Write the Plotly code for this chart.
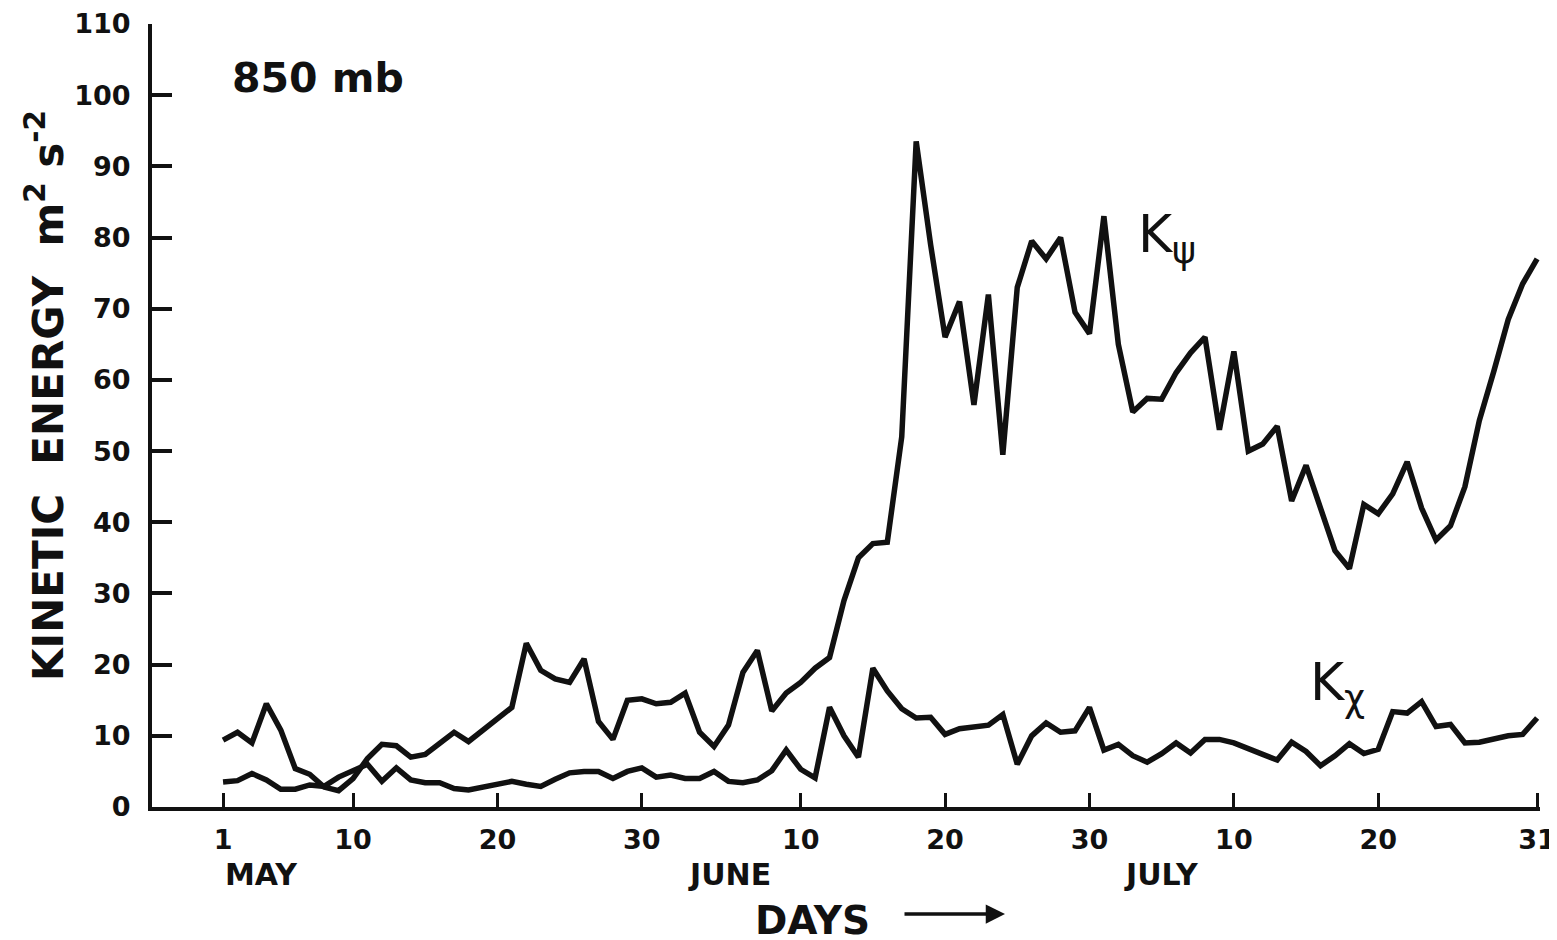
import plotly.graph_objects as go

# ---- data ----
days = list(range(1, 93))  # 1 May .. 31 July

k_psi = [9.4, 10.5, 9.0, 14.5, 10.8, 5.4, 4.6, 2.8, 2.3, 4.0,
         6.8, 8.8, 8.6, 7.0, 7.4, 9.0, 10.5, 9.2, 10.8, 12.5,
         14.0, 23.0, 19.2, 18.0, 17.5, 20.8, 12.0, 9.5, 15.0, 15.2,
         14.5, 14.7, 16.0, 10.5, 8.5, 11.5, 18.9, 22.0, 13.5, 16.0,
         17.5, 19.5, 21.0, 29.0, 35.0, 37.0, 37.2, 52.0, 93.5, 79.0,
         66.0, 71.0, 56.5, 72.0, 49.5, 73.0, 79.5, 77.0, 80.0, 69.5,
         66.5, 83.0, 65.0, 55.5, 57.4, 57.3, 61.0, 63.8, 66.0, 53.0,
         64.0, 50.0, 51.0, 53.5, 43.0, 48.0, 42.0, 36.0, 33.5, 42.5,
         41.2, 44.0, 48.5, 42.0, 37.5, 39.5, 45.0, 54.3, 61.2, 68.5,
         73.5, 77.0]

k_chi = [3.5, 3.7, 4.7, 3.8, 2.5, 2.5, 3.1, 2.9, 4.2, 5.0,
         6.0, 3.6, 5.5, 3.8, 3.4, 3.4, 2.6, 2.4, 2.8, 3.3,
         3.6, 3.2, 2.9, 3.9, 4.8, 5.0, 5.0, 4.0, 5.0, 5.5,
         4.2, 4.5, 4.0, 4.0, 5.0, 3.6, 3.4, 3.8, 5.1, 8.0,
         5.3, 4.1, 14.0, 10.0, 7.0, 19.5, 16.3, 13.8, 12.5, 12.6,
         10.2, 11.0, 11.3, 11.5, 13.0, 6.0, 10.0, 11.8, 10.5, 10.7,
         14.0, 8.0, 8.8, 7.2, 6.3, 7.5, 9.0, 7.6, 9.5, 9.5,
         9.0, 8.3, 7.4, 6.6, 9.1, 7.8, 5.8, 7.2, 8.9, 7.5,
         8.1, 13.4, 13.2, 14.8, 11.3, 11.6, 9.0, 9.1, 9.5, 10.0,
         10.2, 12.5]

x_tick_days = [1, 10, 20, 30, 41, 51, 61, 71, 81, 92]
x_tick_text = ["1", "10", "20", "30", "10", "20", "30", "10", "20", "31"]
y_tick_vals = list(range(0, 111, 10))

months = ["MAY", "JUNE", "JULY"]
month_pos = [1, 36.1, 66.0]

FONT = "DejaVu Sans"
INK = "#111111"
NB = "\u00a0"

# plot area geometry (figure pixels; the page adds an 8px body margin)
L, R, T, B = 144, 25, 16, 141
W, H = 1557, 940
PW, PH = W - L - R, H - T - B


def px(xs):   # screen x -> paper x
    return (xs - 8 - L) / PW


def py(ys):   # screen y -> paper y
    return (H - B - (ys - 8)) / PH


fig = go.Figure()
fig.add_trace(go.Scatter(x=days, y=k_psi, mode="lines", name="K_psi",
                         line=dict(color=INK, width=5.5), showlegend=False))
fig.add_trace(go.Scatter(x=days, y=k_chi, mode="lines", name="K_chi",
                         line=dict(color=INK, width=5.5), showlegend=False))

fig.update_layout(
    width=W, height=H,
    margin=dict(l=L, r=R, t=T, b=B, autoexpand=False),
    paper_bgcolor="white", plot_bgcolor="white",
    font=dict(family=FONT, color=INK),
    xaxis=dict(range=[-3.92, 92.2], showgrid=False, zeroline=False,
               showline=True, linewidth=4, linecolor=INK, automargin=False,
               tickmode="array", tickvals=x_tick_days, ticktext=x_tick_text,
               ticks="inside", ticklen=14, tickwidth=2.5, tickcolor=INK,
               ticklabelstandoff=6, ticklabeloverflow="allow",
               tickfont=dict(size=27, family=FONT, color=INK, weight="bold")),
    yaxis=dict(range=[0, 110], showgrid=False, zeroline=False,
               showline=True, linewidth=4, linecolor=INK, automargin=False,
               tickmode="array", tickvals=y_tick_vals,
               ticks="inside", ticklen=20, tickwidth=4, tickcolor=INK,
               ticklabelstandoff=12, ticklabeloverflow="allow",
               tickfont=dict(size=27, family=FONT, color=INK, weight="bold")),
)

# month names under the day ticks
for m, d in zip(months, month_pos):
    fig.add_annotation(x=d, y=py(874), xref="x", yref="paper", text=m,
                       showarrow=False, xanchor="left" if m == "MAY" else "center",
                       yanchor="middle",
                       font=dict(size=30, family=FONT, color=INK, weight="bold"))

# DAYS with arrow
fig.add_annotation(x=px(812), y=py(920), xref="paper", yref="paper",
                   text="DAYS", showarrow=False, xanchor="center", yanchor="middle",
                   font=dict(size=39, family=FONT, color=INK, weight="bold"))
fig.add_annotation(x=px(1005), y=py(914), xref="paper", yref="paper",
                   text="", showarrow=True, ax=-102, ay=0, arrowhead=2,
                   arrowsize=1.1, arrowwidth=3.5, arrowcolor=INK)

# y-axis title
ytitle = ("KINETIC" + NB * 2 + "ENERGY" + NB * 2 + "m<sup>2</sup>" + NB + "s<sup>-2</sup>")
fig.add_annotation(x=px(45), y=py(396), xref="paper", yref="paper",
                   text=ytitle, textangle=-90,
                   showarrow=False, xanchor="center", yanchor="middle",
                   font=dict(size=42, family=FONT, color=INK, weight="bold"))

# panel label
fig.add_annotation(x=px(230), y=py(78), xref="paper", yref="paper",
                   text="850 mb", showarrow=False, xanchor="left", yanchor="middle",
                   font=dict(size=41, family=FONT, color=INK, weight="bold"))

# curve labels
fig.add_annotation(x=64.2, y=80.0, xref="x", yref="y", text="K<sub>ψ</sub>",
                   showarrow=False, xanchor="left", yanchor="middle",
                   font=dict(size=52, family=FONT, color=INK))
fig.add_annotation(x=76.1, y=17.0, xref="x", yref="y", text="K<sub>χ</sub>",
                   showarrow=False, xanchor="left", yanchor="middle",
                   font=dict(size=52, family=FONT, color=INK))

fig.write_html("out.html")
